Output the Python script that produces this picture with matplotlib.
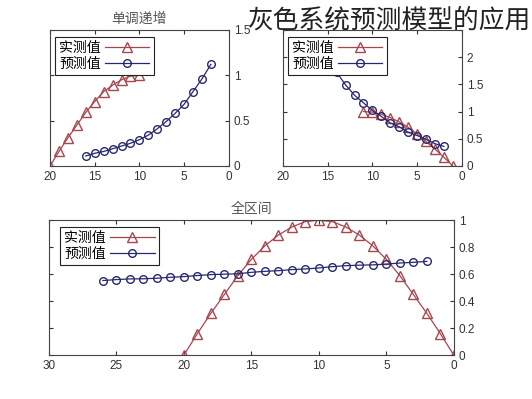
import matplotlib
matplotlib.use('Agg')
import matplotlib.pyplot as plt
import numpy as np

plt.rcParams['font.family'] = ['Noto Sans CJK SC', 'DejaVu Sans']
plt.rcParams['font.size'] = 8.5

# top-left: monotone increasing part
tl_x_act = [20, 19, 18, 17, 16, 15, 14, 13, 12, 11, 10]
tl_y_act = [0.0, 0.16, 0.31, 0.45, 0.59, 0.71, 0.82, 0.89, 0.95, 0.99, 1.0]
tl_x_pred = [16, 15, 14, 13, 12, 11, 10, 9, 8, 7, 6, 5, 4, 3, 2]
tl_y_pred = [0.11, 0.14, 0.16, 0.19, 0.22, 0.25, 0.29, 0.34, 0.41, 0.49, 0.58, 0.68, 0.82, 0.96, 1.12]

# top-right: monotone decreasing part
tr_x_act = [11, 10, 9, 8, 7, 6, 5, 4, 3, 2, 1]
tr_y_act = [1.0, 0.99, 0.95, 0.89, 0.81, 0.71, 0.59, 0.45, 0.31, 0.16, 0.0]
tr_x_pred = [16, 15, 14, 13, 12, 11, 10, 9, 8, 7, 6, 5, 4, 3, 2]
tr_y_pred = [2.2, 1.95, 1.72, 1.49, 1.30, 1.16, 1.02, 0.91, 0.79, 0.72, 0.62, 0.56, 0.49, 0.41, 0.36]

# bottom: whole interval
b_x_act = list(range(20, -1, -1))
b_y_act = [0.0, 0.16, 0.31, 0.45, 0.59, 0.71, 0.81, 0.89, 0.95, 0.99, 1.0,
           0.99, 0.95, 0.89, 0.81, 0.71, 0.59, 0.45, 0.31, 0.16, 0.0]
b_x_pred = list(range(26, 1, -1))
b_y_pred = [0.553, 0.56, 0.565, 0.566, 0.57, 0.577, 0.582, 0.59, 0.597, 0.6, 0.603,
            0.614, 0.621, 0.626, 0.634, 0.639, 0.646, 0.656, 0.663, 0.667, 0.669,
            0.675, 0.683, 0.688, 0.695]

red = '#a8464f'
blue = '#28286e'


def draw(ax, xa, ya, xp, yp, xlim, ylim, yticks, ylabels, title):
    ax.plot(xa, ya, '-^', color=red, mfc='none', mec=red, ms=6.5, lw=0.9, label='实测值')
    ax.plot(xp, yp, '-o', color=blue, mfc='none', mec=blue, ms=5.5, lw=0.9, label='预测值')
    ax.set_xlim(xlim)
    ax.set_ylim(ylim)
    ax.invert_xaxis()
    ax.set_yticks(yticks)
    ax.set_yticklabels(ylabels)
    ax.yaxis.tick_right()
    ax.tick_params(direction='in', length=3, colors='#333333', labelsize=8.5,
                   top=True, bottom=True, left=True, right=True, labelleft=False, labelright=True)
    for lab in ax.get_xticklabels() + ax.get_yticklabels():
        lab.set_fontfamily('Liberation Sans')
    for s in ax.spines.values():
        s.set_color('#444444')
        s.set_linewidth(0.8)
    if title:
        ax.set_title(title, fontsize=10, color='#555555', pad=5)
    leg = ax.legend(loc='upper left', bbox_to_anchor=(0.028, 0.95), borderaxespad=0,
                    markerfirst=False, fancybox=False, framealpha=1, edgecolor='#222222',
                    fontsize=10, handlelength=3.2, borderpad=0.3, labelspacing=0.15,
                    handletextpad=0.3)
    leg.get_frame().set_linewidth(0.8)


fig = plt.figure(figsize=(5.32, 3.99), dpi=100)
ax1 = fig.add_axes([0.094, 0.584, 0.336, 0.341])
ax2 = fig.add_axes([0.532, 0.584, 0.336, 0.341])
ax3 = fig.add_axes([0.092, 0.110, 0.761, 0.338])

draw(ax1, tl_x_act, tl_y_act, tl_x_pred, tl_y_pred, (0, 20), (0, 1.5),
     [0, 0.5, 1, 1.5], ['0', '0.5', '1', '1.5'], '单调递增')
# the title and top tick label of this panel are covered by the banner text
draw(ax2, tr_x_act, tr_y_act, tr_x_pred, tr_y_pred, (0, 20), (0, 2.5),
     [0, 0.5, 1, 1.5, 2, 2.5], ['0', '0.5', '1', '1.5', '2', ''], None)
draw(ax3, b_x_act, b_y_act, b_x_pred, b_y_pred, (0, 30), (0, 1),
     [0, 0.2, 0.4, 0.6, 0.8, 1], ['0', '0.2', '0.4', '0.6', '0.8', '1'], '全区间')

fig.text(0.999, 0.948, '灰色系统预测模型的应用', ha='right', va='center', fontsize=18.5,
         color='#222222')

fig.savefig('out.png', dpi=100)
